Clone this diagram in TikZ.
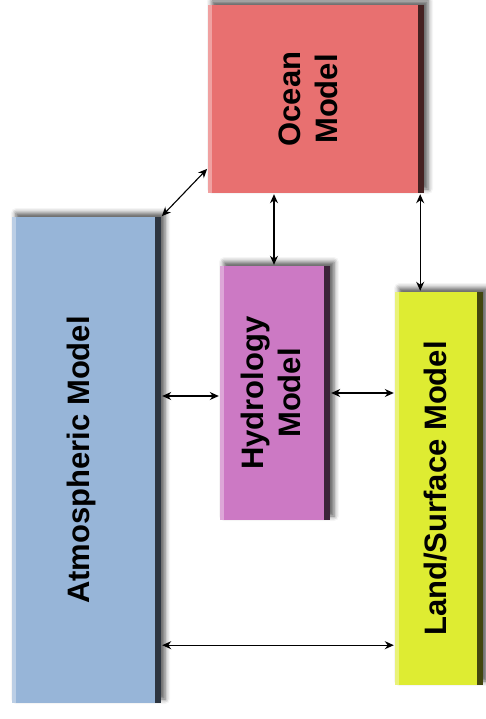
\documentclass[tikz,border=0pt]{standalone}
\usepackage{fontspec}
\setmainfont{Liberation Sans}
\usetikzlibrary{arrows.meta, shadows.blur, calc}

\definecolor{oceanred}{RGB}{232,112,112}
\definecolor{atmosblue}{RGB}{151,181,216}
\definecolor{hydropink}{RGB}{204,121,196}
\definecolor{landyellow}{RGB}{222,236,50}

\begin{document}
\begin{tikzpicture}[
        x=1pt, y=-1pt,
        box/.style={inner sep=0pt,
            blur shadow={shadow xshift=4pt, shadow yshift=4pt, shadow blur radius=5pt, shadow opacity=65},
            path picture={
                \fill[white, opacity=.35] (path picture bounding box.south west) rectangle ([xshift=4pt]path picture bounding box.north west);
                \fill[black, opacity=.7] ([xshift=-6pt]path picture bounding box.south east) rectangle (path picture bounding box.north east);}},
        lbl/.style={rotate=90, font=\bfseries\fontsize{31}{37}\selectfont, align=center},
        arr/.style={line width=1.1pt, {Stealth[length=9pt, width=8pt]}-{Stealth[length=9pt, width=8pt]}, shorten >=1pt, shorten <=1pt}
    ]
        \useasboundingbox (0,0) rectangle (485,719);

        \node[box, fill=oceanred,   minimum width=216pt, minimum height=188pt] (ocean) at (316, 99)    {};
        \node[box, fill=atmosblue,  minimum width=149pt, minimum height=486pt] (atmos) at (86.5, 460)  {};
        \node[box, fill=hydropink,  minimum width=110pt, minimum height=254pt] (hydro) at (275, 393)   {};
        \node[box, fill=landyellow, minimum width=88pt,  minimum height=393pt] (land)  at (439, 488.5) {};

        \node[lbl] at ([xshift=-8pt]ocean.center) {Ocean\\Model};
        \node[lbl] at ([xshift=-5pt]atmos.center) {Atmospheric Model};
        \node[lbl] at ([xshift=-4pt]hydro.center) {Hydrology\\Model};
        \node[lbl] at ([xshift=-3pt]land.center)  {Land/Surface Model};

        % links to the ocean
        \draw[arr] (atmos.north east) -- ([yshift=25pt]ocean.south west);
        \draw[arr] ([xshift=-1pt]hydro.north) -- ([xshift=-1pt]hydro.north |- ocean.south);
        \draw[arr] ([xshift=-4pt]ocean.south east) -- ([xshift=-4pt]ocean.south east |- land.north);

        % horizontal links
        \draw[arr] ([yshift=-3pt]hydro.west -| atmos.east) -- ([yshift=-3pt]hydro.west);
        \draw[arr] (hydro.east) -- (hydro.east -| land.west);
        \draw[arr] ([yshift=40pt]land.south west) -- ([yshift=40pt]land.south west -| atmos.east);
    \end{tikzpicture}
\end{document}
